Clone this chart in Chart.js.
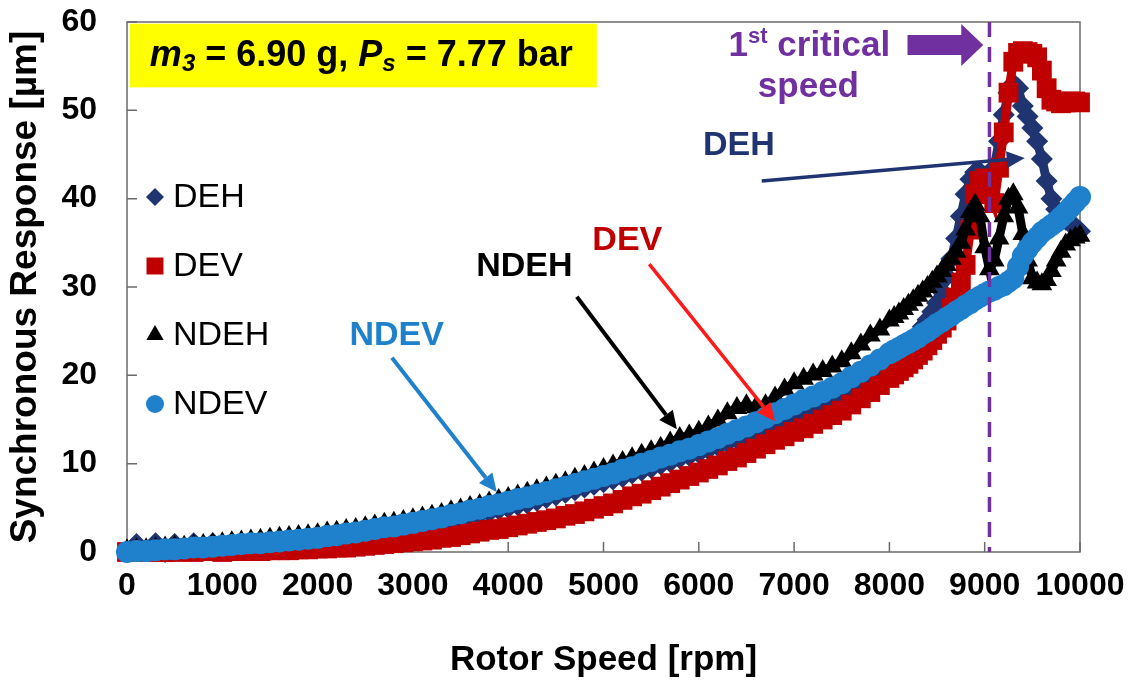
<!DOCTYPE html>
<html><head><meta charset="utf-8">
<script src="https://cdn.jsdelivr.net/npm/chart.js@4/dist/chart.umd.min.js"></script>
<style>html,body{margin:0;padding:0;background:#fff;}#wrap{width:1138px;height:682px;position:relative;}</style>
</head><body><div id="wrap"><canvas id="c" width="1138" height="682"></canvas></div>
<script>
// ---------------- data (rotor speed in rpm, response in µm) ----------------
const speeds = [
0,100,200,300,400,500,600,700,800,900,
1000,1100,1200,1300,1400,1500,1600,1700,1800,1900,
2000,2100,2200,2300,2400,2500,2600,2700,2800,2900,
3000,3100,3200,3300,3400,3500,3600,3700,3800,3900,
4000,4100,4200,4300,4400,4500,4600,4700,4800,4900,
5000,5100,5200,5300,5400,5500,5600,5700,5800,5900,
6000,6100,6200,6300,6400,6500,6600,6700,6800,6900,
7000,7100,7200,7300,7400,7500,7600,7700,7800,7900,
8000,
8050,8100,8150,8200,8250,8300,8350,8400,8450,8500,
8550,8600,8650,8700,8750,8800,8850,8900,8950,9000,
9050,9100,9150,9200,9250,9300,9350,9400,9450,9500,
9550,9600,9650,9700,9750,9800,9850,9900,9950,10000];

const DEH = [
0.0,0.9,0.1,1.0,0.0,0.9,0.1,1.0,0.2,1.0,
0.2,1.0,0.4,1.1,0.6,1.1,0.9,1.1,1.2,1.2,
1.3,1.4,1.5,1.7,1.8,2.0,2.1,2.3,2.4,2.6,
2.8,3.0,3.2,3.4,3.6,3.8,4.0,4.3,4.5,4.8,
5.0,5.3,5.5,5.8,6.1,6.4,6.7,7.0,7.3,7.6,
7.9,8.2,8.5,8.9,9.2,9.5,9.9,10.2,10.6,10.9,
11.2,11.6,12.0,12.4,12.8,13.2,13.6,14.1,14.5,15.0,
15.5,16.0,16.5,17.0,17.5,18.1,18.7,19.3,20.0,20.7,
21.4,
21.8,22.3,22.8,23.4,24.0,24.7,25.5,26.3,27.2,28.2,
29.5,31.2,33.2,35.5,38.0,40.5,42.2,43.0,43.0,42.5,
42.0,43.5,46.5,49.5,52.0,53.0,52.5,50.5,49.3,48.0,
46.5,44.5,42.0,40.0,38.8,38.2,37.6,37.2,36.8,36.3];

const DEV = [
0.0,0.0,0.1,0.0,0.0,0.0,0.1,0.0,0.1,0.1,
0.0,0.1,0.1,0.1,0.1,0.2,0.2,0.2,0.3,0.3,
0.4,0.4,0.5,0.5,0.6,0.7,0.8,0.9,1.0,1.1,
1.2,1.3,1.4,1.6,1.7,1.9,2.1,2.3,2.5,2.6,
2.8,3.0,3.2,3.4,3.6,3.8,4.1,4.3,4.6,4.9,
5.2,5.5,5.9,6.3,6.6,7.0,7.4,7.8,8.2,8.6,
9.0,9.4,9.8,10.3,10.7,11.2,11.7,12.2,12.7,13.1,
13.6,14.0,14.5,15.0,15.5,16.0,16.7,17.4,18.1,18.9,
19.7,
20.1,20.5,20.9,21.3,21.8,22.3,22.8,23.4,24.0,24.7,
25.4,26.2,27.6,28.8,30.5,32.5,36.5,40.5,42.0,42.3,
41.0,39.5,43.5,47.5,52.0,55.5,56.5,56.7,56.6,56.4,
56.0,54.5,52.5,51.2,51.0,50.8,50.9,51.0,51.0,50.9];

const NDEH = [
0.2,0.3,0.3,0.4,0.5,0.6,0.6,0.7,0.8,0.9,
1.0,1.1,1.2,1.3,1.4,1.5,1.6,1.7,1.8,1.9,
2.0,2.2,2.3,2.5,2.6,2.8,3.0,3.2,3.3,3.5,
3.7,3.9,4.1,4.3,4.6,4.8,5.1,5.3,5.6,5.9,
6.1,6.4,6.7,7.0,7.3,7.6,7.9,8.3,8.6,9.0,
9.4,9.8,10.2,10.6,11.0,11.4,11.8,12.4,12.9,13.2,
13.6,14.2,14.9,15.7,16.3,16.6,16.4,16.6,17.5,18.4,
19.1,19.6,20.1,20.5,21.0,21.6,22.5,23.5,24.5,25.2,
26.2,
26.6,27.0,27.5,28.0,28.5,29.0,29.5,30.0,30.6,31.2,
31.8,32.5,33.2,34.0,35.0,36.5,38.5,39.3,38.0,34.5,
32.0,33.0,35.5,38.0,40.0,40.5,39.0,36.0,33.0,31.0,
30.5,30.3,30.8,31.8,33.0,34.0,34.8,35.3,35.6,35.8];

const NDEV = [
0.0,0.1,0.1,0.2,0.3,0.3,0.4,0.5,0.5,0.6,
0.7,0.8,0.9,1.0,1.0,1.1,1.2,1.3,1.4,1.5,
1.6,1.8,1.9,2.1,2.2,2.4,2.6,2.8,2.9,3.1,
3.3,3.5,3.7,3.9,4.2,4.4,4.7,4.9,5.2,5.4,
5.7,6.0,6.2,6.5,6.8,7.1,7.4,7.7,8.0,8.3,
8.6,8.9,9.3,9.6,10.0,10.3,10.7,11.0,11.4,11.7,
12.1,12.5,12.9,13.4,13.8,14.2,14.7,15.2,15.7,16.2,
16.7,17.2,17.6,18.1,18.6,19.1,19.8,20.4,21.1,21.8,
22.5,
22.8,23.1,23.4,23.7,24.0,24.3,24.7,25.0,25.4,25.8,
26.1,26.5,26.8,27.2,27.5,27.9,28.2,28.6,28.9,29.2,
29.5,29.7,30.0,30.2,30.6,31.0,32.3,33.5,34.3,35.0,
35.6,36.2,36.6,37.0,37.4,37.9,38.4,39.0,39.6,40.2];

const xTicks = [0,1000,2000,3000,4000,5000,6000,7000,8000,9000,10000];
const yTicks = [0,10,20,30,40,50,60];
const seriesNames = ['DEH','DEV','NDEH','NDEV'];
const criticalSpeed = 9050;

// ---------------- styling ----------------
const FONT = "'Liberation Sans', Arial, Helvetica, sans-serif";
const COL = {DEH:'#1F3470', DEV:'#C00000', NDEH:'#000000', NDEV:'#1F80CC'};
const SHAPE = {DEH:'rectRot', DEV:'rect', NDEH:'triangle', NDEV:'circle'};
const RAD = {DEH:11, DEV:14, NDEH:12, NDEV:11};
const ORDER = {DEH:4, DEV:3, NDEH:2, NDEV:1};
const PURPLE = '#7030A0';

function pts(vals){ return speeds.map((s,i)=>({x:s, y:vals[i]})); }
const seriesVals = {DEH, DEV, NDEH, NDEV};

const datasets = seriesNames.map(n => ({
  label:n, data:pts(seriesVals[n]), order:ORDER[n],
  showLine:true, borderColor:COL[n], borderWidth:9, tension:0,
  pointStyle:SHAPE[n], pointRadius:RAD[n], pointBackgroundColor:COL[n],
  pointBorderWidth:0, clip:false
}));

function drawMarker(ctx, style, x, y, r, color){
  ctx.save(); ctx.fillStyle=color; ctx.beginPath();
  if(style==='circle'){ ctx.arc(x,y,r,0,Math.PI*2); }
  else if(style==='rect'){ const s=r*Math.SQRT1_2; ctx.rect(x-s,y-s,2*s,2*s); }
  else if(style==='rectRot'){ ctx.moveTo(x-r,y); ctx.lineTo(x,y-r); ctx.lineTo(x+r,y); ctx.lineTo(x,y+r); ctx.closePath(); }
  else if(style==='triangle'){ ctx.moveTo(x,y-r); ctx.lineTo(x+r*0.866,y+r/2); ctx.lineTo(x-r*0.866,y+r/2); ctx.closePath(); }
  ctx.fill(); ctx.restore();
}
function arrow(ctx,x1,y1,x2,y2,color,w,hl,hw){
  const a=Math.atan2(y2-y1,x2-x1);
  const bx=x2-hl*Math.cos(a), by=y2-hl*Math.sin(a);
  ctx.save(); ctx.strokeStyle=color; ctx.lineWidth=w; ctx.lineCap='butt';
  ctx.beginPath(); ctx.moveTo(x1,y1); ctx.lineTo(bx,by); ctx.stroke();
  ctx.fillStyle=color; ctx.beginPath(); ctx.moveTo(x2,y2);
  ctx.lineTo(bx+hw/2*Math.sin(a), by-hw/2*Math.cos(a));
  ctx.lineTo(bx-hw/2*Math.sin(a), by+hw/2*Math.cos(a));
  ctx.closePath(); ctx.fill(); ctx.restore();
}

// annotations (data coordinates)
const labelArrows = [
  {text:'DEH',  color:'#1F3470', arrowColor:'#1F3470', lx:6420, ly:46.0, x1:6660, y1:42.0, x2:9420, y2:44.6, w:3.5},
  {text:'NDEH', color:'#000000', arrowColor:'#000000', lx:4170, ly:32.3, x1:4720, y1:28.9, x2:5770, y2:13.9, w:4},
  {text:'DEV',  color:'#C00000', arrowColor:'#FF1A1A', lx:5250, ly:35.3, x1:5480, y1:32.6, x2:6800, y2:14.8, w:3.5},
  {text:'NDEV', color:'#1F80CC', arrowColor:'#1F80CC', lx:2830, ly:24.5, x1:2780, y1:22.0, x2:3880, y2:6.8, w:4}
];

const overlay = {
  id:'overlay',
  beforeDatasetsDraw(chart){
    const {ctx, chartArea:a, scales:{x,y}} = chart;
    ctx.save();
    ctx.strokeStyle='#6b6b6b'; ctx.lineWidth=1.5;
    ctx.strokeRect(a.left, a.top, a.right-a.left, a.bottom-a.top);
    ctx.beginPath();
    xTicks.forEach(v=>{ const px=x.getPixelForValue(v); ctx.moveTo(px,a.bottom); ctx.lineTo(px,a.bottom-10); });
    yTicks.forEach(v=>{ const py=y.getPixelForValue(v); ctx.moveTo(a.left,py); ctx.lineTo(a.left+10,py); });
    ctx.stroke();
    // yellow parameter box
    const bx1=x.getPixelForValue(30), bx2=x.getPixelForValue(4930), by1=y.getPixelForValue(59.8), by2=y.getPixelForValue(52.6);
    ctx.fillStyle='#FFFF00'; ctx.fillRect(bx1,by1,bx2-bx1,by2-by1);
    const segs=[{t:'m',i:1},{t:'3',i:1,s:1},{t:' = 6.90 g, '},{t:'P',i:1},{t:'s',i:1,s:1},{t:' = 7.77 bar'}];
    let tx=x.getPixelForValue(240); const ty=y.getPixelForValue(56.1);
    ctx.fillStyle='#000'; ctx.textBaseline='middle'; ctx.textAlign='left';
    segs.forEach(sg=>{
      ctx.font=(sg.i?'italic ':'')+'bold '+(sg.s?24:36)+'px '+FONT;
      ctx.fillText(sg.t, tx, ty+(sg.s?8:0));
      tx+=ctx.measureText(sg.t).width;
    });
    ctx.restore();
  },
  afterDatasetsDraw(chart){
    const {ctx, chartArea:a, scales:{x,y}} = chart;
    ctx.save();
    // critical speed dashed line
    const cx=x.getPixelForValue(criticalSpeed);
    ctx.strokeStyle=PURPLE; ctx.lineWidth=3.5; ctx.setLineDash([15,10]);
    ctx.beginPath(); ctx.moveTo(cx,a.top); ctx.lineTo(cx,a.bottom); ctx.stroke();
    ctx.setLineDash([]);
    // critical speed text
    ctx.fillStyle=PURPLE; ctx.textBaseline='middle';
    const line1y=y.getPixelForValue(57.3), line2y=y.getPixelForValue(52.6);
    const parts=[{t:'1',f:35,dy:0},{t:'st',f:22,dy:-9},{t:' critical',f:35,dy:0}];
    let total=0; parts.forEach(p=>{ctx.font='bold '+p.f+'px '+FONT; total+=ctx.measureText(p.t).width;});
    let px=x.getPixelForValue(7160)-total/2;
    ctx.textAlign='left';
    parts.forEach(p=>{ctx.font='bold '+p.f+'px '+FONT; ctx.fillText(p.t,px,line1y+p.dy); px+=ctx.measureText(p.t).width;});
    ctx.font='bold 35px '+FONT; ctx.textAlign='center';
    ctx.fillText('speed', x.getPixelForValue(7150), line2y);
    // purple block arrow
    const ax1=x.getPixelForValue(8190), ax2=x.getPixelForValue(8985), ay=y.getPixelForValue(57.4);
    const hx=ax2-22;
    ctx.beginPath();
    ctx.moveTo(ax1,ay-10); ctx.lineTo(hx,ay-10); ctx.lineTo(hx,ay-21); ctx.lineTo(ax2,ay);
    ctx.lineTo(hx,ay+21); ctx.lineTo(hx,ay+10); ctx.lineTo(ax1,ay+10); ctx.closePath(); ctx.fill();
    // labels with arrows
    labelArrows.forEach(L=>{
      arrow(ctx,x.getPixelForValue(L.x1),y.getPixelForValue(L.y1),x.getPixelForValue(L.x2),y.getPixelForValue(L.y2),L.arrowColor,L.w,18,17);
      ctx.fillStyle=L.color; ctx.font='bold 34px '+FONT; ctx.textAlign='center'; ctx.textBaseline='middle';
      ctx.fillText(L.text, x.getPixelForValue(L.lx), y.getPixelForValue(L.ly));
    });
    // legend inside the plot
    const lx=a.left+28;
    seriesNames.forEach((n,i)=>{
      const ly=a.top+175+i*69;
      drawMarker(ctx,SHAPE[n],lx,ly,n==='DEV'?12:(n==='NDEH'?10:9),COL[n]);
      ctx.fillStyle='#000'; ctx.font='34px '+FONT; ctx.textAlign='left'; ctx.textBaseline='middle';
      ctx.fillText(n,lx+18,ly+1);
    });
    ctx.restore();
  }
};

new Chart(document.getElementById('c'), {
  type:'scatter',
  data:{datasets},
  options:{
    responsive:false, animation:false, devicePixelRatio:1, events:[],
    layout:{padding:{left:0,right:58,top:22,bottom:0}},
    plugins:{legend:{display:false}, tooltip:{enabled:false}},
    scales:{
      x:{type:'linear', min:0, max:10000,
         afterBuildTicks:s=>{s.ticks=xTicks.map(v=>({value:v}));},
         afterFit:s=>{s.height=130;},
         grid:{display:false, tickLength:15}, border:{display:false},
         ticks:{font:{family:FONT,size:32,weight:'bold'}, color:'#000', padding:0, maxRotation:0, autoSkip:false,
                callback:v=>String(v)},
         title:{display:true, text:'Rotor Speed [rpm]', color:'#000', font:{family:FONT,size:35,weight:'bold'}, padding:{top:0,bottom:1}}},
      y:{type:'linear', min:0, max:60,
         afterBuildTicks:s=>{s.ticks=yTicks.map(v=>({value:v}));},
         afterFit:s=>{s.width=127;},
         grid:{display:false, tickLength:30}, border:{display:false},
         ticks:{font:{family:FONT,size:32,weight:'bold'}, color:'#000', padding:0, callback:v=>String(v)},
         title:{display:true, text:'Synchronous Response [µm]', color:'#000', font:{family:FONT,size:37,weight:'bold'}, padding:{top:4,bottom:0}}}
    }
  },
  plugins:[overlay]
});
</script></body></html>
